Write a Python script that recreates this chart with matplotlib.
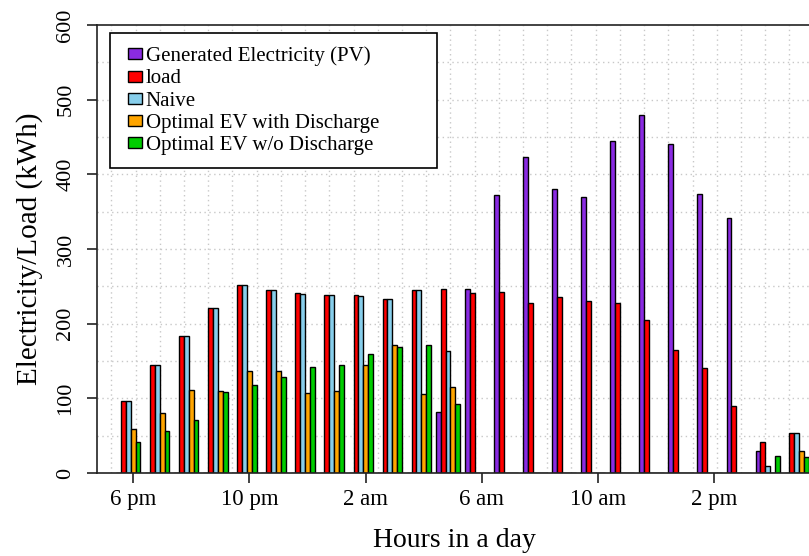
import matplotlib
matplotlib.use("Agg")
import matplotlib.pyplot as plt
import numpy as np
from matplotlib.patches import Patch, Rectangle
from matplotlib.legend_handler import HandlerPatch

plt.rcParams["font.family"] = ["Liberation Serif", "DejaVu Serif"]

# hours of the day, starting at 6 pm
hours = ["6 pm", "7 pm", "8 pm", "9 pm", "10 pm", "11 pm", "12 am", "1 am",
         "2 am", "3 am", "4 am", "5 am", "6 am", "7 am", "8 am", "9 am",
         "10 am", "11 am", "12 pm", "1 pm", "2 pm", "3 pm", "4 pm", "5 pm"]

pv = [0, 0, 0, 0, 0, 0, 0, 0, 0, 0, 0, 82,
      246, 372, 423, 380, 370, 444, 480, 440, 374, 341, 30, 0]
load = [97, 144, 184, 221, 252, 245, 241, 238, 238, 233, 245, 246,
        241, 242, 228, 236, 231, 228, 205, 165, 141, 90, 41, 54]
naive = [97, 144, 184, 221, 252, 245, 240, 238, 237, 233, 245, 164,
         0, 0, 0, 0, 0, 0, 0, 0, 0, 0, 10, 54]
opt_dis = [59, 81, 111, 110, 137, 137, 107, 110, 145, 171, 106, 115,
           0, 0, 0, 0, 0, 0, 0, 0, 0, 0, 0, 30]
opt_nodis = [41, 56, 71, 108, 118, 129, 142, 144, 159, 169, 172, 93,
             0, 0, 0, 0, 0, 0, 0, 0, 0, 0, 23, 22]

series = [pv, load, naive, opt_dis, opt_nodis]
names = ["Generated Electricity (PV)", "load", "Naive",
         "Optimal EV with Discharge", "Optimal EV w/o Discharge"]
colors = ["#8A2BE2", "#FF0000", "#87CEEB", "#FFA500", "#00CD00"]

W, H = 809, 556
fig = plt.figure(figsize=(W / 100, H / 100), dpi=100)
ax_l, ax_r, ax_t, ax_b = 97, 811, 25, 473
ax = fig.add_axes([ax_l / W, (H - ax_b) / H, (ax_r - ax_l) / W, (ax_b - ax_t) / H])

x = np.arange(len(hours))
bw = 1 / 6

# dotted grid behind the bars (every 5 bar widths / every 50 kWh)
for g in np.arange(0, 150, 5):
    ax.axvline((g - 3.5) / 6, color="#C8C8C8", lw=1, ls=(0, (1, 2.5)), zorder=0)
for yv in range(50, 600, 50):
    ax.axhline(yv, color="#C8C8C8", lw=1, ls=(0, (1, 2.5)), zorder=0)

for k, (vals, c) in enumerate(zip(series, colors)):
    ax.bar(x + (k - 2) * bw, vals, width=bw, color=c, edgecolor="black",
           linewidth=1.0, zorder=2)

ax.set_xlim(-1.075, 23.49)
ax.set_ylim(0, 600)

tick_idx = [0, 4, 8, 12, 16, 20]
ax.set_xticks(x[tick_idx] + bw)
ax.set_xticklabels([hours[i] for i in tick_idx], fontsize=16.5)
ax.set_yticks(range(0, 601, 100))
ax.set_yticklabels([str(v) for v in range(0, 601, 100)], fontsize=16,
                   rotation=90, va="center")
ax.tick_params(direction="out", length=7.5, width=1.2, colors="#222222",
               labelcolor="black")
ax.tick_params(axis="x", pad=4)
ax.tick_params(axis="y", pad=8)

for s in ["left", "top", "bottom"]:
    ax.spines[s].set_linewidth(1.2)
    ax.spines[s].set_color("#222222")
ax.spines["right"].set_visible(False)

ax.set_xlabel("Hours in a day", fontsize=20, labelpad=13)
ax.set_ylabel("Electricity/Load (kWh)", fontsize=21, labelpad=10)


# small square key drawn at the right end of the handle box
def square_key(legend, orig_handle, xdescent, ydescent, width, height, fontsize):
    w, h = 10.0, 7.9
    return Rectangle((-xdescent + width - w, -ydescent + (height - h) / 2), w, h)


handles = [Patch(facecolor=c, edgecolor="black", linewidth=1.0) for c in colors]
aw, ah = ax_r - ax_l, ax_b - ax_t
leg = ax.legend(handles, names, loc="upper left", mode="expand",
                bbox_to_anchor=((110 - ax_l) / aw, 1 - (166 - ax_t) / ah,
                                (437 - 110) / aw, (166 - 33) / ah),
                handler_map={Patch: HandlerPatch(patch_func=square_key)},
                borderaxespad=0, fontsize=15, frameon=True, fancybox=False,
                edgecolor="black", framealpha=1, handlelength=0.87,
                handleheight=0.55, handletextpad=0.2, labelspacing=0.15,
                borderpad=0.65)
leg.get_frame().set_linewidth(1.2)

fig.savefig("out.png", dpi=100)
